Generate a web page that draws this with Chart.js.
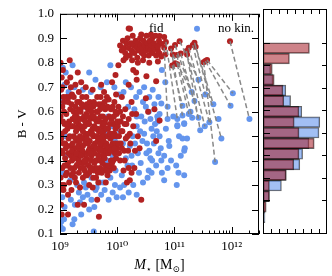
<!DOCTYPE html>
<html>
<head>
<meta charset="utf-8">
<script src="https://cdn.jsdelivr.net/npm/chart.js@4.4.0/dist/chart.umd.min.js"></script>
<style>
  body { margin: 0; background: #fff; }
  #wrap { position: relative; width: 332px; height: 276px; }
  canvas { position: absolute; top: 0; }
  #scatter { left: 0; }
  #hist { left: 262px; }
</style>
</head>
<body>
<div id="wrap">
  <canvas id="scatter" width="264" height="276"></canvas>
  <canvas id="hist" width="70" height="276"></canvas>
</div>
<script>
// ========== DADOS ==========
// pontos [log10 M*, B-V]
const fidPoints = [
  // aglomerado vermelho no topo
  [10.05,0.87],[10.08,0.85],[10.10,0.89],[10.12,0.86],[10.14,0.84],[10.16,0.88],[10.18,0.90],[10.20,0.86],[10.22,0.83],[10.24,0.88],
  [10.25,0.85],[10.27,0.91],[10.29,0.87],[10.30,0.84],[10.32,0.89],[10.34,0.86],[10.35,0.82],[10.37,0.88],[10.38,0.85],[10.40,0.90],
  [10.41,0.87],[10.43,0.84],[10.44,0.86],[10.46,0.89],[10.47,0.83],[10.48,0.87],[10.50,0.85],[10.51,0.91],[10.52,0.88],[10.54,0.86],
  [10.55,0.83],[10.57,0.89],[10.58,0.85],[10.60,0.87],[10.61,0.90],[10.62,0.84],[10.64,0.88],[10.65,0.86],[10.67,0.91],[10.68,0.83],
  [10.70,0.87],[10.71,0.85],[10.73,0.89],[10.36,0.80],[10.45,0.81],[10.56,0.80],[10.26,0.81],[10.42,0.915],[10.59,0.915],[10.15,0.82],
  [10.74,0.909],[10.82,0.905],[10.77,0.878],[10.71,0.865],[10.74,0.838],[10.84,0.834],[10.77,0.825],[11.01,0.798],[10.71,0.805],[10.68,0.724],
  [10.74,0.564],[10.20,0.94],[10.02,0.79],[10.11,0.81],[10.28,0.77],[10.33,0.76],[10.51,0.745],[9.97,0.75],[10.20,0.71],[10.34,0.73],
  [10.50,0.655],[10.65,0.61],[10.54,0.60],
  // nuvem principal
  [9.01,0.80],[9.03,0.74],[9.05,0.77],[9.02,0.69],[9.06,0.66],[9.04,0.62],[9.01,0.58],[9.08,0.55],[9.03,0.51],[9.06,0.47],
  [9.02,0.44],[9.09,0.41],[9.04,0.37],[9.01,0.33],[9.07,0.30],[9.12,0.72],[9.14,0.64],[9.11,0.59],[9.13,0.53],[9.15,0.49],
  [9.10,0.45],[9.14,0.39],[9.12,0.35],[9.16,0.31],[9.02,0.22],[9.03,0.18],[9.14,0.26],[9.14,0.18],
  [9.17,0.81],[9.19,0.70],[9.21,0.67],[9.18,0.61],[9.22,0.57],[9.20,0.54],[9.24,0.50],[9.19,0.46],[9.23,0.43],[9.21,0.40],
  [9.25,0.37],[9.20,0.34],[9.27,0.62],[9.29,0.58],[9.28,0.52],[9.30,0.48],[9.26,0.45],[9.31,0.42],[9.29,0.38],[9.33,0.35],
  [9.28,0.31],[9.31,0.76],[9.33,0.68],[9.34,0.64],[9.32,0.55],[9.35,0.50],[9.34,0.44],[9.31,0.22],
  [9.37,0.72],[9.39,0.66],[9.36,0.60],[9.40,0.57],[9.38,0.53],[9.41,0.49],[9.37,0.46],[9.42,0.43],[9.39,0.39],[9.43,0.36],
  [9.40,0.33],[9.42,0.22],[9.45,0.70],[9.47,0.63],[9.46,0.59],[9.48,0.55],[9.44,0.51],[9.49,0.47],[9.46,0.41],[9.50,0.38],
  [9.47,0.34],[9.51,0.30],[9.52,0.64],[9.53,0.57],[9.54,0.52],[9.52,0.45],[9.55,0.42],[9.53,0.37],
  [9.57,0.69],[9.58,0.62],[9.56,0.58],[9.60,0.54],[9.58,0.50],[9.61,0.47],[9.57,0.44],[9.62,0.40],[9.59,0.36],[9.63,0.33],
  [9.65,0.66],[9.66,0.60],[9.64,0.56],[9.68,0.52],[9.66,0.48],[9.69,0.44],[9.65,0.40],[9.70,0.37],[9.67,0.31],[9.65,0.24],
  [9.68,0.17],[9.72,0.71],[9.73,0.63],[9.71,0.58],[9.74,0.54],[9.72,0.46],[9.75,0.42],[9.73,0.35],
  [9.77,0.68],[9.79,0.61],[9.78,0.56],[9.80,0.50],[9.77,0.47],[9.81,0.43],[9.79,0.38],[9.83,0.34],[9.85,0.65],[9.86,0.58],
  [9.84,0.53],[9.88,0.49],[9.86,0.45],[9.89,0.40],[9.87,0.36],[9.91,0.72],[9.92,0.62],[9.93,0.55],[9.95,0.51],[9.92,0.47],
  [9.96,0.43],[9.94,0.37],[9.98,0.67],[9.99,0.59],[9.97,0.53],[10.00,0.45],[9.98,0.41],
  [10.02,0.62],[10.04,0.56],[10.03,0.50],[10.06,0.47],[10.05,0.40],[10.08,0.66],[10.10,0.58],[10.09,0.52],[10.12,0.44],[10.11,0.36],
  [10.14,0.61],[10.16,0.55],[10.15,0.49],[10.17,0.31],[10.22,0.32],[10.20,0.57],[10.22,0.51],[10.25,0.64],[10.28,0.54],[10.31,0.44],
  [10.33,0.59],[10.39,0.45],[10.42,0.24],[10.68,0.48],[10.25,0.35],[10.30,0.37],
  [9.04,0.70],[9.07,0.60],[9.09,0.52],[9.05,0.43],[9.08,0.38],[9.03,0.30],[9.10,0.34],[9.11,0.66],[9.13,0.46],[9.16,0.56],
  [9.18,0.74],[9.17,0.50],[9.19,0.42],[9.22,0.47],[9.24,0.60],[9.23,0.54],[9.25,0.41],[9.26,0.33],[9.27,0.71],[9.28,0.56],
  [9.30,0.64],[9.32,0.46],[9.33,0.40],[9.35,0.61],[9.36,0.54],[9.36,0.37],[9.38,0.49],[9.39,0.44],[9.41,0.62],[9.41,0.37],
  [9.43,0.54],[9.44,0.47],[9.45,0.39],[9.46,0.66],[9.48,0.43],[9.49,0.61],[9.50,0.51],[9.51,0.35],[9.52,0.48],[9.54,0.40],
  [9.55,0.60],[9.56,0.45],[9.57,0.53],[9.58,0.33],[9.59,0.64],[9.60,0.43],[9.61,0.57],[9.62,0.50],[9.63,0.37],[9.64,0.60],
  [9.64,0.45],[9.66,0.53],[9.67,0.42],[9.68,0.63],[9.69,0.56],[9.70,0.47],[9.71,0.40],[9.71,0.66],[9.73,0.50],[9.74,0.44],
  [9.75,0.58],[9.76,0.36],[9.76,0.52],[9.78,0.64],[9.79,0.44],[9.80,0.57],[9.81,0.47],[9.82,0.36],[9.83,0.62],[9.84,0.50],
  [9.85,0.43],[9.87,0.55],[9.88,0.38],[9.89,0.61],[9.90,0.46],[9.91,0.51],[9.93,0.40],[9.94,0.58],[9.95,0.64],[9.96,0.55],
  [9.97,0.47],[9.99,0.50],[10.01,0.54],[10.03,0.43],[10.05,0.60],[10.07,0.52],[10.08,0.45],[10.13,0.55],[10.18,0.50],[10.19,0.44],
  [10.23,0.47],[10.26,0.59],[10.36,0.50],[10.13,0.40],[10.20,0.37],[9.06,0.28],[9.20,0.28],[9.35,0.29],[9.57,0.29],[9.80,0.31],
  [9.02,0.49],[9.05,0.56],[9.07,0.64],[9.09,0.47],[9.11,0.38],[9.12,0.55],[9.15,0.43],[9.16,0.66],[9.18,0.37],[9.20,0.63],
  [9.21,0.44],[9.23,0.35],[9.24,0.66],[9.26,0.58],[9.27,0.49],[9.29,0.43],[9.30,0.53],[9.31,0.60],[9.32,0.39],[9.34,0.48],
  [9.35,0.57],[9.37,0.42],[9.38,0.63],[9.40,0.52],[9.40,0.46],[9.42,0.58],[9.43,0.40],[9.44,0.56],[9.45,0.34],[9.47,0.49],
  [9.48,0.58],[9.50,0.44],[9.51,0.55],[9.53,0.43],[9.54,0.62],[9.55,0.37],[9.56,0.51],[9.58,0.46],[9.59,0.58],[9.60,0.39],
  [9.61,0.63],[9.62,0.53],[9.63,0.45],[9.65,0.50],[9.66,0.35],[9.67,0.57],[9.69,0.49],[9.70,0.61],[9.71,0.44],[9.72,0.52],
  [9.74,0.39],[9.75,0.62],[9.76,0.48],[9.77,0.55],[9.78,0.41],[9.80,0.46],[9.81,0.53],[9.82,0.66],[9.84,0.45],[9.85,0.38],
  [9.87,0.51],[9.88,0.44],[9.90,0.57],[9.91,0.39],[9.93,0.50],[9.95,0.45],[9.97,0.60],[10.00,0.56],[10.02,0.47],[10.06,0.56]
];

const noKinPoints = [
  [9.01,0.78],[9.05,0.78],[9.10,0.76],[9.22,0.79],[9.51,0.76],[9.88,0.79],[9.71,0.70],[9.82,0.72],[9.25,0.70],[9.08,0.71],
  [9.15,0.68],[9.54,0.68],[9.40,0.69],[9.62,0.73],[9.95,0.70],
  [9.03,0.64],[9.08,0.50],[9.44,0.62],[9.78,0.52],[9.84,0.58],[9.90,0.54],[9.96,0.48],[9.10,0.42],[9.82,0.40],[9.92,0.42],
  [9.05,0.35],[9.18,0.32],[9.30,0.30],[9.42,0.31],[9.55,0.33],[9.64,0.29],[9.76,0.31],[9.88,0.33],[9.97,0.36],
  [9.01,0.28],[9.04,0.25],[9.08,0.21],[9.02,0.15],[9.05,0.12],[9.01,0.13],[9.07,0.16],[9.22,0.14],[9.25,0.16],[9.19,0.24],
  [9.26,0.22],[9.33,0.27],[9.37,0.18],[9.40,0.25],[9.48,0.26],[9.51,0.20],[9.59,0.11],[9.55,0.24],[9.62,0.28],[9.72,0.26],
  [9.78,0.28],[9.85,0.24],[9.92,0.27],[9.99,0.25],[10.05,0.29],[9.45,0.29],
  [10.03,0.67],[10.11,0.68],[10.19,0.62],[10.15,0.41],[10.08,0.34],[10.18,0.38],[10.22,0.46],[10.25,0.42],[10.27,0.50],[10.34,0.54],
  [10.30,0.61],[10.34,0.58],[10.39,0.68],[10.45,0.64],[10.40,0.52],[10.44,0.48],[10.51,0.43],[10.48,0.56],[10.55,0.60],[10.60,0.53],
  [10.62,0.69],[10.65,0.63],[10.68,0.38],[10.64,0.47],[10.58,0.41],[10.45,0.31],[10.34,0.26],[10.38,0.35],[10.28,0.30],[10.55,0.36],
  [10.72,0.66],[10.70,0.58],[10.71,0.56],[10.74,0.50],[10.78,0.35],[10.77,0.40],[10.82,0.42],[10.82,0.32],[10.85,0.53],[10.88,0.37],
  [10.90,0.48],[10.91,0.46],[10.94,0.40],[10.76,0.45],[10.72,0.43],
  [11.04,0.30],[11.03,0.38],[11.07,0.35],[11.17,0.34],[11.11,0.42],[11.17,0.44],[11.18,0.45],[11.08,0.50],[11.14,0.49],[11.22,0.49],
  [11.05,0.54],[11.17,0.55],[10.98,0.58],[11.28,0.60],[10.88,0.62],
  [10.78,0.77],[10.84,0.72],[10.77,0.633],[10.74,0.59],[10.71,0.57],[11.77,0.57],[11.17,0.553],[11.05,0.544],
  [10.05,0.52],[10.10,0.47],[10.12,0.30],[10.20,0.27],[10.26,0.38],[10.31,0.47],[10.36,0.43],[10.41,0.39],[10.42,0.58],[10.47,0.51],
  [10.50,0.62],[10.52,0.47],[10.56,0.44],[10.58,0.57],[10.61,0.40],[10.63,0.50],[10.66,0.55],[10.69,0.52],[10.53,0.33],[10.60,0.35],
  [10.33,0.66],[10.24,0.70],[10.15,0.72],[10.47,0.70],[10.56,0.66],[9.96,0.30],[9.35,0.23],[9.60,0.21],[10.10,0.25],[9.70,0.31]
];

// linhas tracejadas: galáxia fid -> mesma galáxia sem kin.
const lineFrom = [
  [11.97,0.888],[11.57,0.811],[11.54,0.807],[11.51,0.802],[11.37,0.865],[11.35,0.882],[11.32,0.872],[11.25,0.861],[11.22,0.834],[11.21,0.848],
  [11.11,0.838],[11.09,0.888],[11.04,0.832],[11.01,0.872],[10.97,0.834],[10.96,0.789],[11.05,0.794],[10.94,0.858],[10.85,0.885],[10.82,0.861]
];
const lineTo = [
  [12.31,0.57],[12.02,0.675],[11.98,0.624],[11.71,0.394],[11.82,0.49],[11.68,0.63],[11.54,0.67],[11.61,0.557],[11.53,0.54],[11.45,0.524],
  [11.42,0.575],[11.42,0.73],[11.31,0.575],[11.35,0.644],[11.30,0.68],[11.14,0.624],[11.25,0.59],[11.14,0.584],[11.05,0.57],[10.88,0.57]
];

// histograma (17 classes entre 0.1 e 0.9)
const histCenters = [0.1235,0.1706,0.2176,0.2647,0.3118,0.3588,0.4059,0.4529,0.5,0.5471,0.5941,0.6412,0.6882,0.7353,0.7824,0.8294,0.8765];
const histFid   = [0, 0.4, 0.8, 0.8, 2.9, 3.85, 4.5, 6.4, 4.5, 3.9, 4.5, 2.6, 2.5, 1.4, 1.16, 3.3, 5.8];
const histNoKin = [0.25, 0.25, 0.8, 2.3, 2.9, 4.6, 4.95, 5.75, 7.0, 7.1, 4.85, 3.45, 2.85, 1.25, 0.95, 0, 0];

const xTickValues = [1e9, 1e10, 1e11, 1e12];
const xTickLabels = ['10⁹', '10¹⁰', '10¹¹', '10¹²'];

const seriesLabels = ['fid', 'no kin.'];
const RED = 'rgb(178,34,34)';
const BLUE = 'rgb(100,149,237)';
const SERIF = '"Liberation Serif", "DejaVu Serif", serif';

Chart.defaults.font.family = SERIF;
Chart.defaults.font.size = 13;
Chart.defaults.color = '#000';

const toXY = p => ({ x: Math.pow(10, p[0]), y: p[1] });

const segs = [];
lineFrom.forEach((p, i) => {
  segs.push(toXY(p), toXY(lineTo[i]), { x: Math.pow(10, lineTo[i][0]), y: null });
});

// ========== MOLDURA + TICKS (estilo matplotlib) ==========
function spine(ctx, a) {
  ctx.strokeStyle = '#000';
  ctx.lineWidth = 1;
  ctx.strokeRect(a.left + 0.5, a.top + 0.5, a.right - a.left - 1, a.bottom - a.top - 1);
}

const frameA = {
  id: 'frameA',
  afterDraw(chart) {
    const { ctx, chartArea: a, scales: { x, y } } = chart;
    ctx.save();
    spine(ctx, a);
    ctx.beginPath();
    for (let d = 9; d <= 12; d++) {
      for (let k = 1; k <= 9; k++) {
        const v = k * Math.pow(10, d);
        if (v < x.min || v > x.max) continue;
        const px = Math.round(x.getPixelForValue(v)) + 0.5;
        const len = k === 1 ? 7 : 3.5;
        ctx.moveTo(px, a.bottom); ctx.lineTo(px, a.bottom - len);
        ctx.moveTo(px, a.top); ctx.lineTo(px, a.top + len);
      }
    }
    y.ticks.forEach(t => {
      const py = Math.round(y.getPixelForValue(t.value)) + 0.5;
      ctx.moveTo(a.left, py); ctx.lineTo(a.left + 7, py);
      ctx.moveTo(a.right, py); ctx.lineTo(a.right - 7, py);
    });
    ctx.stroke();

    // legenda
    const ds = chart.data.datasets;
    ctx.font = '13px ' + SERIF;
    ctx.textBaseline = 'middle';
    const ly = a.top + 15;
    [[1, 70, 89], [2, 137, 158]].forEach(([i, mx, tx]) => {
      ctx.fillStyle = ds[i].backgroundColor;
      ctx.beginPath();
      ctx.arc(a.left + mx, ly, 3, 0, Math.PI * 2);
      ctx.fill();
      ctx.fillStyle = '#000';
      ctx.fillText(ds[i].label, a.left + tx, ly);
    });

    // rótulo do eixo x: M* [Msun]
    const parts = [
      ['M', 'italic 14px ' + SERIF, 0],
      ['⋆', '9px ' + SERIF, 3],
      [' [M', '14px ' + SERIF, 0],
      ['⊙', '9px ' + SERIF, 3],
      [']', '14px ' + SERIF, 0]
    ];
    let w = 0;
    parts.forEach(p => { ctx.font = p[1]; w += ctx.measureText(p[0]).width; });
    let cx = (a.left + a.right) / 2 - w / 2;
    ctx.textBaseline = 'alphabetic';
    parts.forEach(p => {
      ctx.font = p[1];
      ctx.fillText(p[0], cx, 269 + p[2]);
      cx += ctx.measureText(p[0]).width;
    });
    ctx.restore();
  }
};

const frameB = {
  id: 'frameB',
  afterDraw(chart) {
    const { ctx, chartArea: a, scales: { x, y } } = chart;
    ctx.save();
    spine(ctx, a);
    ctx.beginPath();
    for (let i = 2; i <= 9; i++) {
      const py = Math.round(y.getPixelForValue(i / 10)) + 0.5;
      ctx.moveTo(a.left, py); ctx.lineTo(a.left + 7, py);
      ctx.moveTo(a.right, py); ctx.lineTo(a.right - 5, py);
    }
    for (let i = 1; i < 8; i++) {
      const px = Math.round(x.getPixelForValue(i)) + 0.5;
      ctx.moveTo(px, a.top); ctx.lineTo(px, a.top + 5);
      ctx.moveTo(px, a.bottom); ctx.lineTo(px, a.bottom - 5);
    }
    ctx.stroke();
    ctx.restore();
  }
};

// ========== DISPERSÃO ==========
new Chart(document.getElementById('scatter'), {
  type: 'scatter',
  data: {
    datasets: [
      {
        label: '',
        data: segs,
        showLine: true,
        spanGaps: false,
        borderColor: 'rgba(130,130,130,0.95)',
        borderWidth: 1.5,
        borderDash: [5, 3],
        pointRadius: 0,
        order: 0
      },
      {
        label: seriesLabels[0],
        data: fidPoints.concat(lineFrom).map(toXY),
        backgroundColor: RED,
        borderWidth: 0,
        pointRadius: 3,
        order: 1
      },
      {
        label: seriesLabels[1],
        data: noKinPoints.concat(lineTo).map(toXY),
        backgroundColor: BLUE,
        borderWidth: 0,
        pointRadius: 3,
        order: 2
      }
    ]
  },
  options: {
    responsive: false,
    animation: false,
    devicePixelRatio: 1,
    layout: { padding: { top: 9, right: 1, left: 0, bottom: 0 } },
    plugins: { legend: { display: false }, tooltip: { enabled: false } },
    scales: {
      x: {
        type: 'logarithmic',
        min: 1e9,
        max: 3e12,
        grid: { display: false, drawTicks: false },
        border: { display: false },
        ticks: {
          autoSkip: false,
          maxRotation: 0,
          padding: 5,
          font: { size: 13 },
          callback: function (v) {
            const i = xTickValues.findIndex(t => Math.abs(v / t - 1) < 1e-6);
            return i >= 0 ? xTickLabels[i] : '';
          }
        },
        afterFit: s => { s.height = 42; }
      },
      y: {
        min: 0.1,
        max: 1.0,
        grid: { display: false, drawTicks: false },
        border: { display: false },
        ticks: { stepSize: 0.1, padding: 6, font: { size: 13 }, callback: v => Number(v).toFixed(1) },
        title: { display: true, text: 'B - V', font: { size: 13 }, padding: { top: 15, bottom: 0 } },
        afterFit: s => { s.width = 60; }
      }
    }
  },
  plugins: [frameA]
});

// ========== HISTOGRAMA ==========
new Chart(document.getElementById('hist'), {
  type: 'bar',
  data: {
    datasets: [
      {
        label: seriesLabels[1],
        data: histCenters.map((c, i) => ({ x: histNoKin[i], y: c })),
        backgroundColor: 'rgba(100,149,237,0.6)',
        borderColor: 'rgba(0,0,0,0.6)',
        borderWidth: 1,
        borderSkipped: false,
        grouped: false,
        barPercentage: 1,
        categoryPercentage: 1,
        order: 2
      },
      {
        label: seriesLabels[0],
        data: histCenters.map((c, i) => ({ x: histFid[i], y: c })),
        backgroundColor: 'rgba(165,30,40,0.55)',
        borderColor: 'rgba(0,0,0,0.6)',
        borderWidth: 1,
        borderSkipped: false,
        grouped: false,
        barPercentage: 1,
        categoryPercentage: 1,
        order: 1
      }
    ]
  },
  options: {
    indexAxis: 'y',
    responsive: false,
    animation: false,
    devicePixelRatio: 1,
    layout: { padding: { left: 1, right: 5, top: 9, bottom: 42 } },
    plugins: { legend: { display: false }, tooltip: { enabled: false } },
    scales: {
      x: { type: 'linear', min: 0, max: 8, display: false },
      y: { type: 'linear', min: 0.1, max: 1.0, display: false }
    }
  },
  plugins: [frameB]
});
</script>
</body>
</html>
